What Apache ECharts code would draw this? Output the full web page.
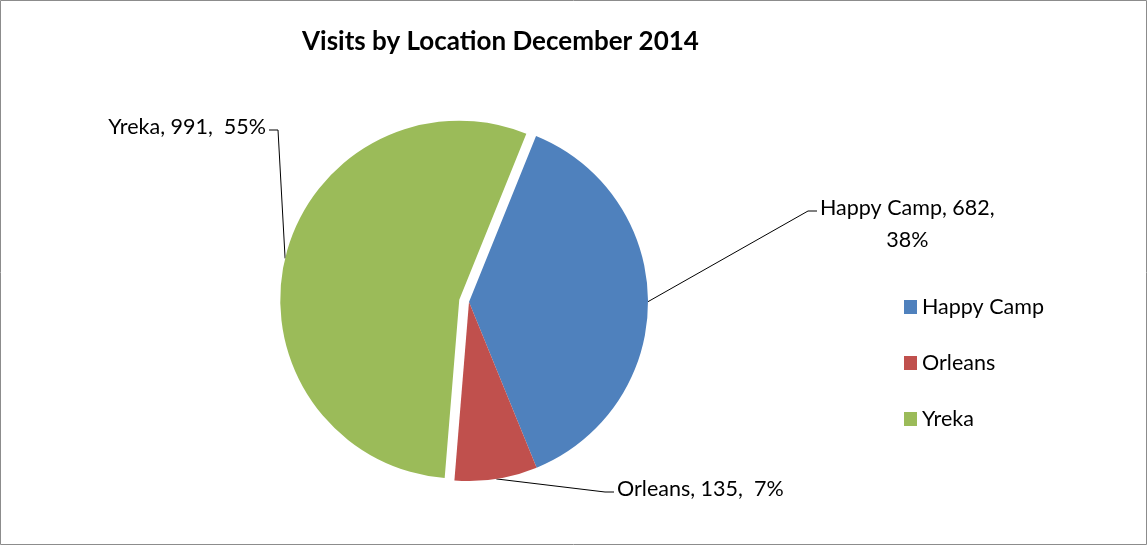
<!DOCTYPE html>
<html>
<head>
<meta charset="utf-8">
<script src="https://cdn.jsdelivr.net/npm/echarts@6/dist/echarts.min.js"></script>
<style>
html,body{margin:0;padding:0;background:#fff;}
#c{width:1148px;height:546px;}
</style>
</head>
<body>
<div id="c"></div>
<script>
const categories = ['Happy Camp', 'Orleans', 'Yreka'];
const visits = [682, 135, 991];
const colors = ['#4F81BD', '#C0504D', '#9BBB59'];
const exploded = ['Yreka'];
const titleText = 'Visits by Location December 2014';

const FONT = 'Lato, "Open Sans", sans-serif';
const FS = 21.5;
const LH = 32;
const labelAnchors = [
  {x: 820, y: 224, align: 'left'},
  {x: 617, y: 489, align: 'left'},
  {x: 266, y: 127, align: 'right'}
];
const CENTER = [469, 302];
const R = 179;
const START = 68;
const OFFSET = 10;

const total = visits.reduce((a, b) => a + b, 0);
function midAngleOf(idx) {
  let acc = 0;
  for (let i = 0; i < idx; i++) acc += visits[i];
  const mid = (acc + visits[idx] / 2) / total * 360;
  return (START - mid) * Math.PI / 180;
}

function makeSeries(showExploded) {
  let center = CENTER;
  if (showExploded) {
    const idx = categories.indexOf(exploded[0]);
    const a = midAngleOf(idx);
    center = [CENTER[0] + OFFSET * Math.cos(a), CENTER[1] - OFFSET * Math.sin(a)];
  }
  return {
    type: 'pie',
    center: center,
    radius: [0, R],
    startAngle: START,
    clockwise: true,
    percentPrecision: 0,
    silent: true,
    data: categories.map((n, i) => {
      const visible = exploded.includes(n) === showExploded;
      return {
        name: n, value: visits[i],
        itemStyle: {color: colors[i], opacity: visible ? 1 : 0},
        label: {show: visible},
        labelLine: {show: visible}
      };
    }),
    label: {
      show: true,
      fontFamily: FONT, fontSize: FS, color: '#000', lineHeight: LH,
      formatter: function (p) {
        if (p.name === 'Happy Camp') return '{a|' + p.name + ', ' + p.value + ',}\n{a|' + Math.round(p.percent) + '%}';
        return p.name + ', ' + p.value + ',  ' + Math.round(p.percent) + '%';
      },
      rich: {a: {fontFamily: FONT, fontSize: FS, color: '#000', lineHeight: LH, align: 'center'}}
    },
    labelLine: {lineStyle: {color: '#000', width: 1}},
    labelLayout: function (p) {
      const a = labelAnchors[p.dataIndex];
      const out = {x: a.x, y: a.y, align: a.align, verticalAlign: 'middle'};
      const pts = p.labelLinePoints;
      if (pts && pts.length) {
        const h = p.labelRect ? p.labelRect.height : LH;
        const lineY = a.y - h / 2 + LH / 2 + 3;
        const dir = a.align === 'right' ? 1 : -1;
        out.labelLinePoints = [
          pts[0].slice(),
          [a.x + dir * 12, lineY],
          [a.x + dir * 3, lineY]
        ];
      }
      return out;
    },
    emphasis: {disabled: true}
  };
}

const chart = echarts.init(document.getElementById('c'), null, {renderer: 'canvas'});
chart.setOption({
  animation: false,
  backgroundColor: '#fff',
  title: {
    text: titleText,
    left: 297, top: 24,
    textStyle: {fontFamily: FONT, fontSize: 26, fontWeight: 'bold', color: '#000'}
  },
  legend: {
    orient: 'vertical',
    left: 899, top: 291,
    itemWidth: 13, itemHeight: 14, itemGap: 34,
    icon: 'rect',
    data: categories.map((n, i) => ({name: n, itemStyle: {color: colors[i], opacity: 1}})),
    textStyle: {fontFamily: FONT, fontSize: FS, lineHeight: 22, color: '#000'}
  },
  graphic: [{
    type: 'rect', shape: {x: 0.5, y: 0.5, width: 1146, height: 544},
    style: {fill: 'none', stroke: '#8c8c8c', lineWidth: 1}, silent: true
  }],
  series: [makeSeries(false), makeSeries(true)]
});
</script>
</body>
</html>
